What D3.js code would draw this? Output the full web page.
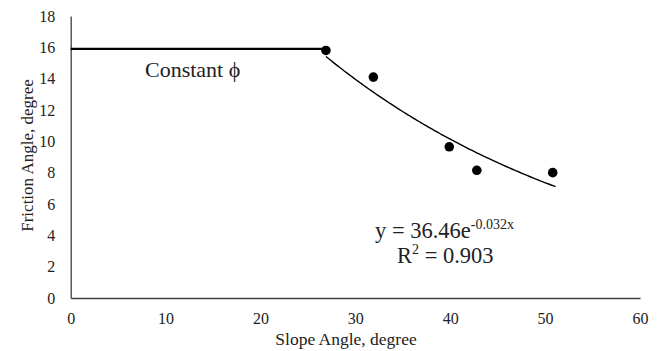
<!DOCTYPE html>
<html><head><meta charset="utf-8">
<script src="https://cdn.jsdelivr.net/npm/d3@7"></script>
<style>body{margin:0;background:#fff}svg{display:block}text{font-family:"Liberation Serif","Times New Roman",serif;fill:#222}</style>
</head><body>
<svg id="c" width="658" height="351"></svg>
<script>
const slopeAngle = [26.9, 31.9, 39.9, 42.8, 50.8];
const frictionAngle = [15.8, 14.1, 9.65, 8.15, 8.0];
const constantPhi = 15.9;
const fitA = 36.46, fitB = -0.032;
const fitEnd = 51.1;
const xTicks = [0,10,20,30,40,50,60];
const yTicks = [0,2,4,6,8,10,12,14,16,18];

const svg = d3.select("#c");
const x = d3.scaleLinear().domain([0,60]).range([70.7,640]);
const y = d3.scaleLinear().domain([0,18]).range([298,16]);
const serif = '"Liberation Serif", "Times New Roman", serif';

// axes
const xAxis = d3.axisBottom(x).tickValues(xTicks).tickSize(0).tickPadding(15);
const gx = svg.append("g").attr("transform",`translate(0,${y(0)})`).call(xAxis)
  .attr("font-family",serif).attr("font-size",16);
gx.select(".domain").attr("stroke","#404040").attr("stroke-width",1.3);
gx.selectAll("text").attr("fill","#222");

const yAxis = d3.axisLeft(y).tickValues(yTicks).tickSize(0).tickPadding(15.5);
const gy = svg.append("g").attr("transform",`translate(${x(0)},0)`).call(yAxis)
  .attr("font-family",serif).attr("font-size",16);
gy.select(".domain").attr("stroke","#404040").attr("stroke-width",1.3);
gy.selectAll("text").attr("fill","#222");

// constant line
svg.append("line")
  .attr("x1",x(0)).attr("x2",x(slopeAngle[0]))
  .attr("y1",y(constantPhi)).attr("y2",y(constantPhi))
  .attr("stroke","#000").attr("stroke-width",2.2);

// trend line
const xs = d3.range(slopeAngle[0], fitEnd+0.01, 0.2);
const line = d3.line().x(d=>x(d)).y(d=>y(fitA*Math.exp(fitB*d)));
svg.append("path").datum(xs).attr("d",line).attr("fill","none").attr("stroke","#000").attr("stroke-width",1.4);

// points
svg.selectAll("circle.pt").data(slopeAngle).join("circle")
  .attr("class","pt").attr("cx",d=>x(d)).attr("cy",(d,i)=>y(frictionAngle[i])).attr("r",4.8).attr("fill","#000");

// labels
svg.append("text").attr("x",145).attr("y",76.5).attr("font-size",22).text("Constant \u03D5");

const eq = svg.append("text").attr("x",375).attr("y",238).attr("font-size",22.5);
eq.append("tspan").text("y = 36.46e");
eq.append("tspan").attr("dy",-9).attr("font-size",14).text("-0.032x");
const r2 = svg.append("text").attr("x",397).attr("y",263).attr("font-size",22.5);
r2.append("tspan").text("R");
r2.append("tspan").attr("dy",-9).attr("font-size",14).text("2");
r2.append("tspan").attr("dy",9).text(" = 0.903");

svg.append("text").attr("x",346).attr("y",345).attr("text-anchor","middle").attr("font-size",17.5).text("Slope Angle, degree");
svg.append("text").attr("transform","translate(32.5,155.5) rotate(-90)").attr("text-anchor","middle").attr("font-size",17).text("Friction Angle, degree");
</script>
</body></html>
